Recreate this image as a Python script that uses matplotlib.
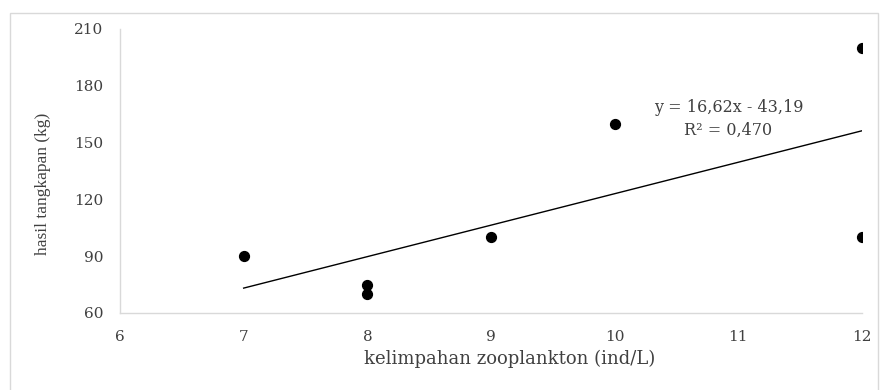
import matplotlib
matplotlib.use("Agg")
import matplotlib.pyplot as plt
from matplotlib.patches import Rectangle

x_vals = [7, 8, 8, 9, 10, 12, 12]
y_vals = [90, 75, 70, 100, 160, 200, 100]
slope = 16.62
intercept = -43.19
eq_text = "y = 16,62x - 43,19"
r2_text = "R² = 0,470"
x_ticks = [6, 7, 8, 9, 10, 11, 12]
y_ticks = [60, 90, 120, 150, 180, 210]
x_label = "kelimpahan zooplankton (ind/L)"
y_label = "hasil tangkapan (kg)"

plt.rcParams['font.family'] = ['DejaVu Serif']

fig = plt.figure(figsize=(8.8, 3.9), dpi=100)
fig.patches.append(Rectangle((10/880, -0.1), 868/880, 1 - 13/390 + 0.1,
                             transform=fig.transFigure, fill=False,
                             edgecolor='#d9d9d9', linewidth=1.0))
ax = fig.add_axes([120/880, 1-313/390, 742/880, (313-29)/390])

ax.scatter(x_vals, y_vals, s=50, color='black', zorder=3)
xs = [min(x_vals), max(x_vals)]
ax.plot(xs, [slope*v + intercept for v in xs], color='black', linewidth=1.0)

ax.set_xlim(6, 12)
ax.set_ylim(60, 210)
ax.set_xticks(x_ticks)
ax.set_yticks(y_ticks)
ax.tick_params(length=0, labelsize=11, colors='#404040')
ax.tick_params(axis='x', pad=12)
ax.tick_params(axis='y', pad=12)
for s in ['top', 'right']:
    ax.spines[s].set_visible(False)
for s in ['left', 'bottom']:
    ax.spines[s].set_color('#d9d9d9')
    ax.spines[s].set_linewidth(1.0)

ax.text(10.92, 162.5, eq_text + "\n" + r2_text, ha='center', va='center',
        fontsize=11.5, color='#404040', linespacing=1.45)

fig.text(510/880, 1-359/390, x_label, ha='center', va='center', fontsize=13, color='#404040')
fig.text(43/880, 1-184/390, y_label, ha='center', va='center', rotation=90, fontsize=12.5,
         color='#404040', family=['Liberation Serif', 'DejaVu Serif'])

fig.savefig("out.png", dpi=100)
